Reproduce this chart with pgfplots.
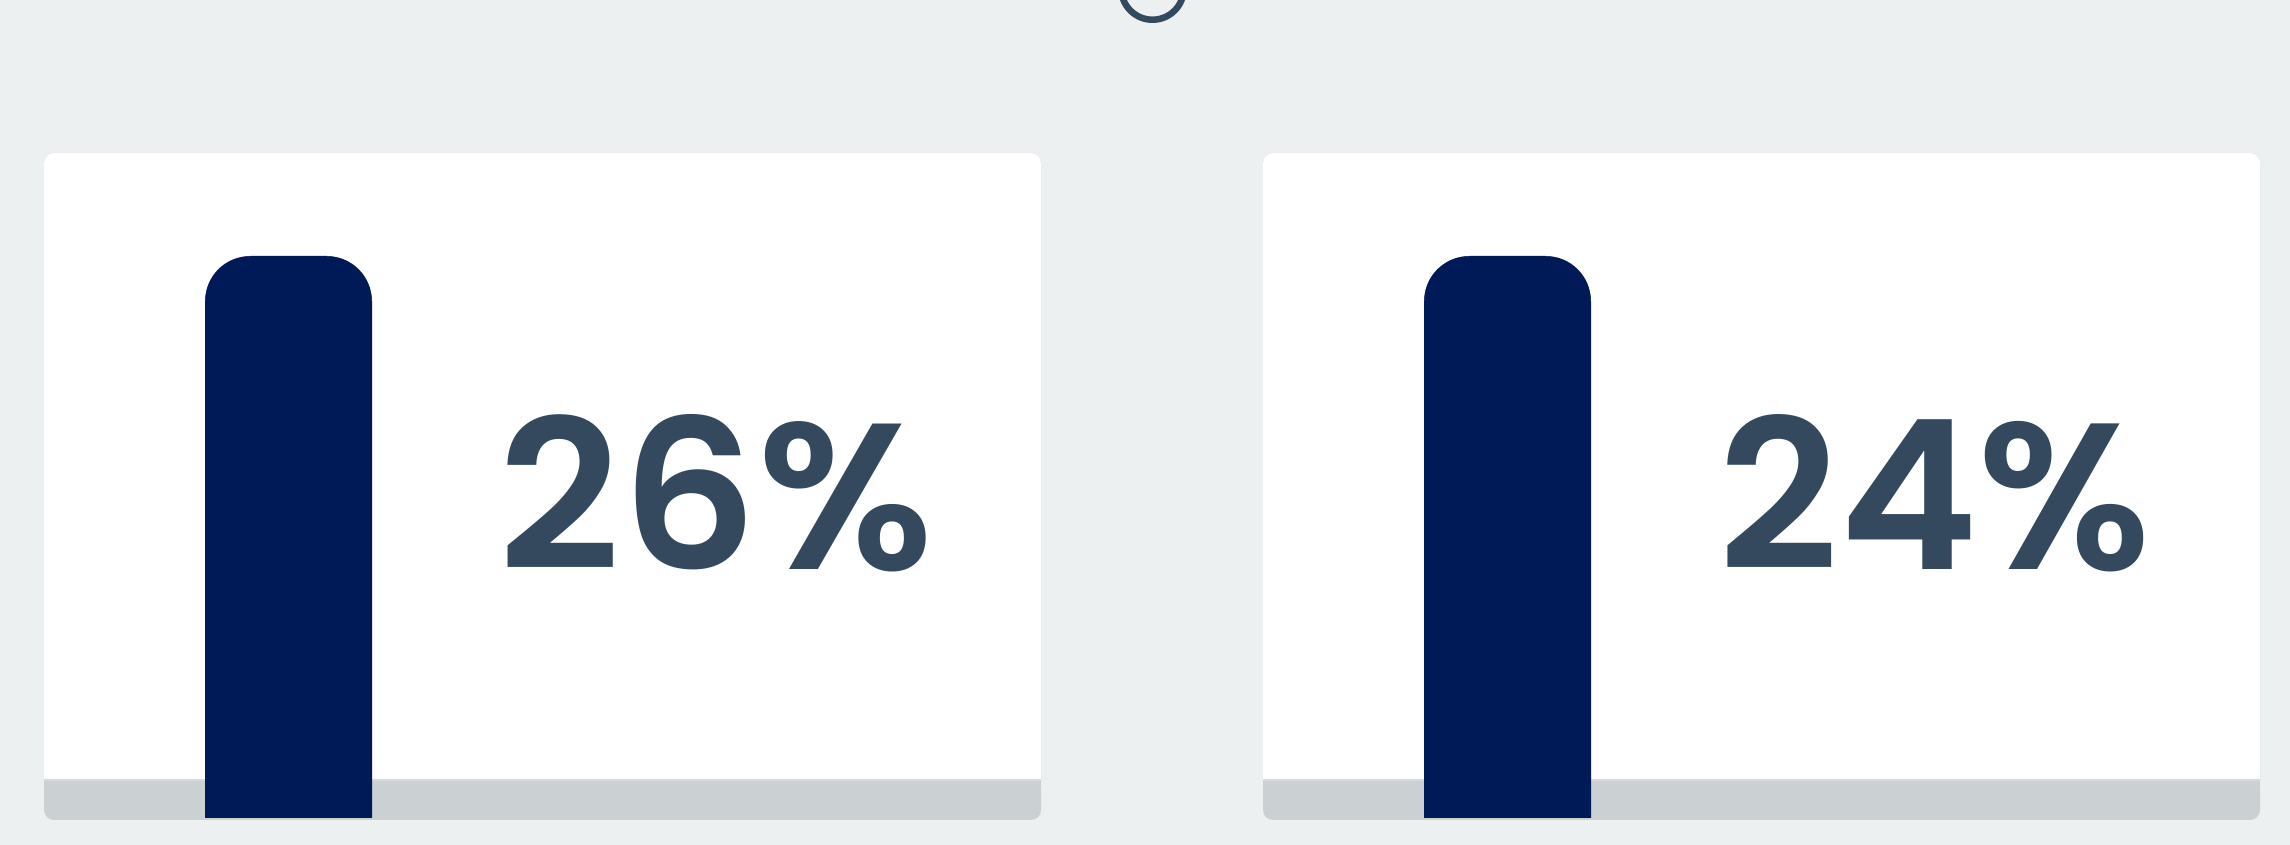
\documentclass[border=0pt]{standalone}
\usepackage{pgfplots}
\pgfplotsset{compat=1.18}
\usepackage{fontspec}
\setmainfont{Poppins}
\newfontfamily\numfont{Poppins}[UprightFont={* SemiBold}]
\usepackage{graphicx}
\definecolor{bg}{HTML}{ECF0F1}
\definecolor{navy}{HTML}{001A57}
\definecolor{txt}{HTML}{34495E}
\definecolor{strip}{HTML}{CBD0D3}
\definecolor{stripline}{HTML}{D6DADD}
\begin{document}
\begin{tikzpicture}
\useasboundingbox (0,0) rectangle (572.5pt,211.25pt);
\begin{axis}[at={(0,0)}, anchor=south west, scale only axis,
  width=572.5pt, height=211.25pt,
  xmin=0, xmax=2290, ymin=-27, ymax=818,
  hide axis, clip=false]
% background
\fill[bg] (axis cs:0,-27) rectangle (axis cs:2290,818);
% card 1
\fill[strip, rounded corners=2.5pt] (axis cs:44,665) rectangle (axis cs:1041,-2);
\fill[white, rounded corners=2.5pt] (axis cs:44,665) rectangle (axis cs:1041,20);
\fill[strip] (axis cs:44,38) rectangle (axis cs:1041,15);
\draw[stripline, line width=0.3pt] (axis cs:44,38) -- (axis cs:1041,38);
% card 2
\fill[strip, rounded corners=2.5pt] (axis cs:1263,665) rectangle (axis cs:2260,-2);
\fill[white, rounded corners=2.5pt] (axis cs:1263,665) rectangle (axis cs:2260,20);
\fill[strip] (axis cs:1263,38) rectangle (axis cs:2260,15);
\draw[stripline, line width=0.3pt] (axis cs:1263,38) -- (axis cs:2260,38);
% bars
\addplot[ybar, bar width=41.75pt, bar shift=0pt, fill=navy, draw=none]
  coordinates {(288.5,562) (1507.5,562)};
% rounded top corners of the bars (white corner masks)
\fill[white] (axis cs:202,565) -- (axis cs:250,565) -- (axis cs:250,562)
  arc[start angle=90, end angle=180, radius=11.25pt] -- (axis cs:202,517) -- cycle;
\fill[white] (axis cs:375,565) -- (axis cs:327,565) -- (axis cs:327,562)
  arc[start angle=90, end angle=0, radius=11.25pt] -- (axis cs:375,517) -- cycle;
\fill[white] (axis cs:1421,565) -- (axis cs:1469,565) -- (axis cs:1469,562)
  arc[start angle=90, end angle=180, radius=11.25pt] -- (axis cs:1421,517) -- cycle;
\fill[white] (axis cs:1594,565) -- (axis cs:1546,565) -- (axis cs:1546,562)
  arc[start angle=90, end angle=0, radius=11.25pt] -- (axis cs:1594,517) -- cycle;
% values
\node[anchor=base west, inner sep=0pt, text=txt] at (axis cs:498,248)
  {\resizebox{108.75pt}{38.75pt}{\numfont 26\%}};
\node[anchor=base west, inner sep=0pt, text=txt] at (axis cs:1718,248)
  {\resizebox{108.25pt}{38.75pt}{\numfont 24\%}};
% partial circle at top
\draw[txt, line width=1.625pt] (axis cs:1152.5,829.5) circle [radius=7.8125pt];
\end{axis}
\end{tikzpicture}
\end{document}
